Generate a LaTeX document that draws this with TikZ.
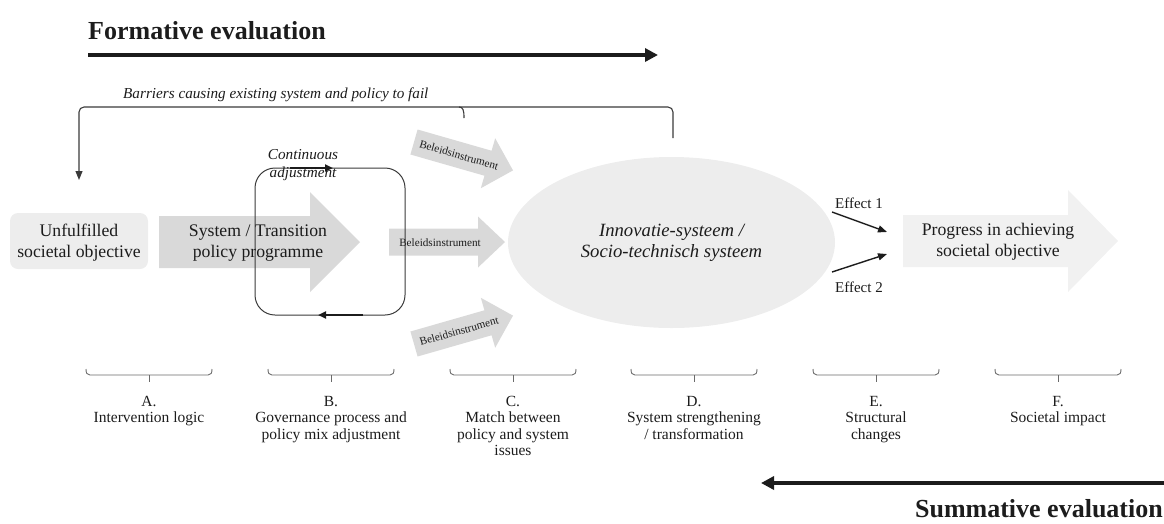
\documentclass[tikz,border=0pt]{standalone}
\usepackage{fontspec}
\setmainfont{Liberation Serif}
\usetikzlibrary{arrows.meta,shapes.geometric}

\definecolor{ink}{HTML}{1C1C1C}
\definecolor{linegray}{HTML}{3A3A3A}
\definecolor{bracegray}{HTML}{6A6A6A}
\definecolor{arrowgray}{HTML}{D9D9D9}
\definecolor{softgray}{HTML}{EDEDED}
\definecolor{palegray}{HTML}{F1F1F1}

\newcommand\setfs[2]{\fontsize{#1}{#2}\selectfont}

\tikzset{
  % block arrow: length, head length, half shaft width, half head width, fill
  pics/blockarrow/.style n args={5}{code={
    \fill[#5] (0,-#3) -- ({#1-#2},-#3) -- ({#1-#2},-#4) -- (#1,0)
      -- ({#1-#2},#4) -- ({#1-#2},#3) -- (0,#3) -- cycle;}},
  % under-brace marking a stage
  pics/stagebrace/.style={code={
    \draw[bracegray, line width=0.9] (0,0) .. controls (0,4) and (1,6) .. (4,6)
      -- ({#1-4},6) .. controls ({#1-1},6) and (#1,4) .. (#1,0);
    \draw[bracegray, line width=0.9] ({#1/2},6) -- ({#1/2},13);}},
  heading/.style={font=\setfs{26}{30}\bfseries, text=ink, inner sep=0},
  evalarrow/.style={line width=3.5, -{Triangle[length=13pt,width=13pt]}, ink},
  bracket/.style={draw=linegray, line width=1.1, rounded corners=5,
    -{Triangle[length=9pt,width=7pt]}},
  loopbox/.style={draw=linegray, line width=1, rounded corners=20, inner sep=0},
  loopflow/.style={line width=2.2, ink, -{Triangle[length=8pt,width=7pt]}},
  effect/.style={line width=1.4, ink, -{Triangle[length=9pt,width=7pt]}},
  bodytext/.style={font=\setfs{17.7}{21}, text=ink, align=center, inner sep=0},
  itallabel/.style={font=\setfs{15.2}{18}\itshape, text=ink, align=center, inner sep=0},
  smalllabel/.style={font=\setfs{15}{17}, text=ink, inner sep=0},
  instrument/.style={font=\setfs{11.2}{13}, text=ink, inner sep=0},
  caption/.style={font=\setfs{15.5}{16.5}, text=ink, align=center, inner sep=0, anchor=north},
}

\begin{document}
\begin{tikzpicture}[x=1pt,y=-1pt]
\useasboundingbox (0,0) rectangle (1164,523);

% evaluation headings and their arrows
\node[heading, anchor=base west] (formative) at (88,39) {Formative evaluation};
\coordinate (formA) at (88,55);
\coordinate (formB) at (658,55);
\draw[evalarrow] (formA) -- (formB);

\node[heading, anchor=base east] (summative) at (1163,517) {Summative evaluation};
\coordinate (sumA) at (1164,483);
\coordinate (sumB) at (761,483);
\draw[evalarrow] (sumA) -- (sumB);

% feedback bracket on failing system and policy
\node[itallabel, anchor=west] (barriers) at (123,95)
  {Barriers causing existing system and policy to fail};
\coordinate (barR) at (673,138);
\coordinate (barL) at (79,180);
\draw[bracket] (barR) -- (673,107) -- (79,107) -- (barL);
\draw[linegray, line width=1.1] (459,107) .. controls (463,107) and (464,110) .. (464,118);

% intervention logic
\node[draw=none, fill=softgray, rounded corners=8, minimum width=138, minimum height=56,
  inner sep=0] (unfulfilled) at (79,241) {};
\node[bodytext] (unfulfilledtxt) at (79,243) {Unfulfilled\\societal objective};

% policy programme
\pic at (159,242) {blockarrow={201}{50}{26}{50}{arrowgray}};
\node[bodytext] (programme) at (258,243) {System / Transition\\policy programme};

% policy instruments
\pic at (389,242) {blockarrow={116}{27}{13.5}{25.5}{arrowgray}};
\node[instrument] (instrB) at (440,243) {Beleidsinstrument};
\pic[rotate=-16] at (414,142) {blockarrow={103}{26}{13}{26}{arrowgray}};
\node[instrument, rotate=-16] (instrA) at (459,155) {Beleidsinstrument};
\pic[rotate=16] at (414,344) {blockarrow={103}{26}{13}{26}{arrowgray}};
\node[instrument, rotate=16] (instrC) at (459,331) {Beleidsinstrument};

% adjustment loop
\node[loopbox, minimum width=150, minimum height=147] (loop) at (330,241.5) {};
\coordinate (adjA) at (290,168);
\coordinate (adjB) at (333,168);
\draw[loopflow] (adjA) -- (adjB);
\coordinate (adjC) at (363,315);
\coordinate (adjD) at (318,315);
\draw[loopflow] (adjC) -- (adjD);
\node[itallabel] (adjust) at (303,165) {Continuous\\adjustment};

% innovation / socio-technical system
\node[ellipse, fill=softgray, minimum width=327, minimum height=171, inner sep=0,
  font=\setfs{18.7}{21}\itshape, text=ink, align=center] (system) at (671.5,242.5)
  {Innovatie-systeem /\\Socio-technisch systeem};

% effects
\coordinate (e1a) at (832,212);
\coordinate (e1b) at (887,232);
\coordinate (e2a) at (832,272);
\coordinate (e2b) at (887,254);
\draw[effect] (e1a) -- (e1b);
\draw[effect] (e2a) -- (e2b);
\node[smalllabel] (effect1) at (859,203) {Effect 1};
\node[smalllabel] (effect2) at (859,287) {Effect 2};

% progress
\pic at (903,241) {blockarrow={215}{50}{26}{51}{palegray}};
\node[bodytext] (progress) at (998,242) {Progress in achieving\\societal objective};

% stages
\pic at (86,369) {stagebrace=126};
\pic at (268,369) {stagebrace=126};
\pic at (450,369) {stagebrace=126};
\pic at (631,369) {stagebrace=126};
\pic at (813,369) {stagebrace=126};
\pic at (995,369) {stagebrace=126};
\node[caption] (stageA) at (149,396) {A.\\Intervention logic};
\node[caption] (stageB) at (331,396) {B.\\Governance process and\\policy mix adjustment};
\node[caption] (stageC) at (513,396) {C.\\Match between\\policy and system\\issues};
\node[caption] (stageD) at (694,396) {D.\\System strengthening\\/ transformation};
\node[caption] (stageE) at (876,396) {E.\\Structural\\changes};
\node[caption] (stageF) at (1058,396) {F.\\Societal impact};
\end{tikzpicture}
\end{document}
